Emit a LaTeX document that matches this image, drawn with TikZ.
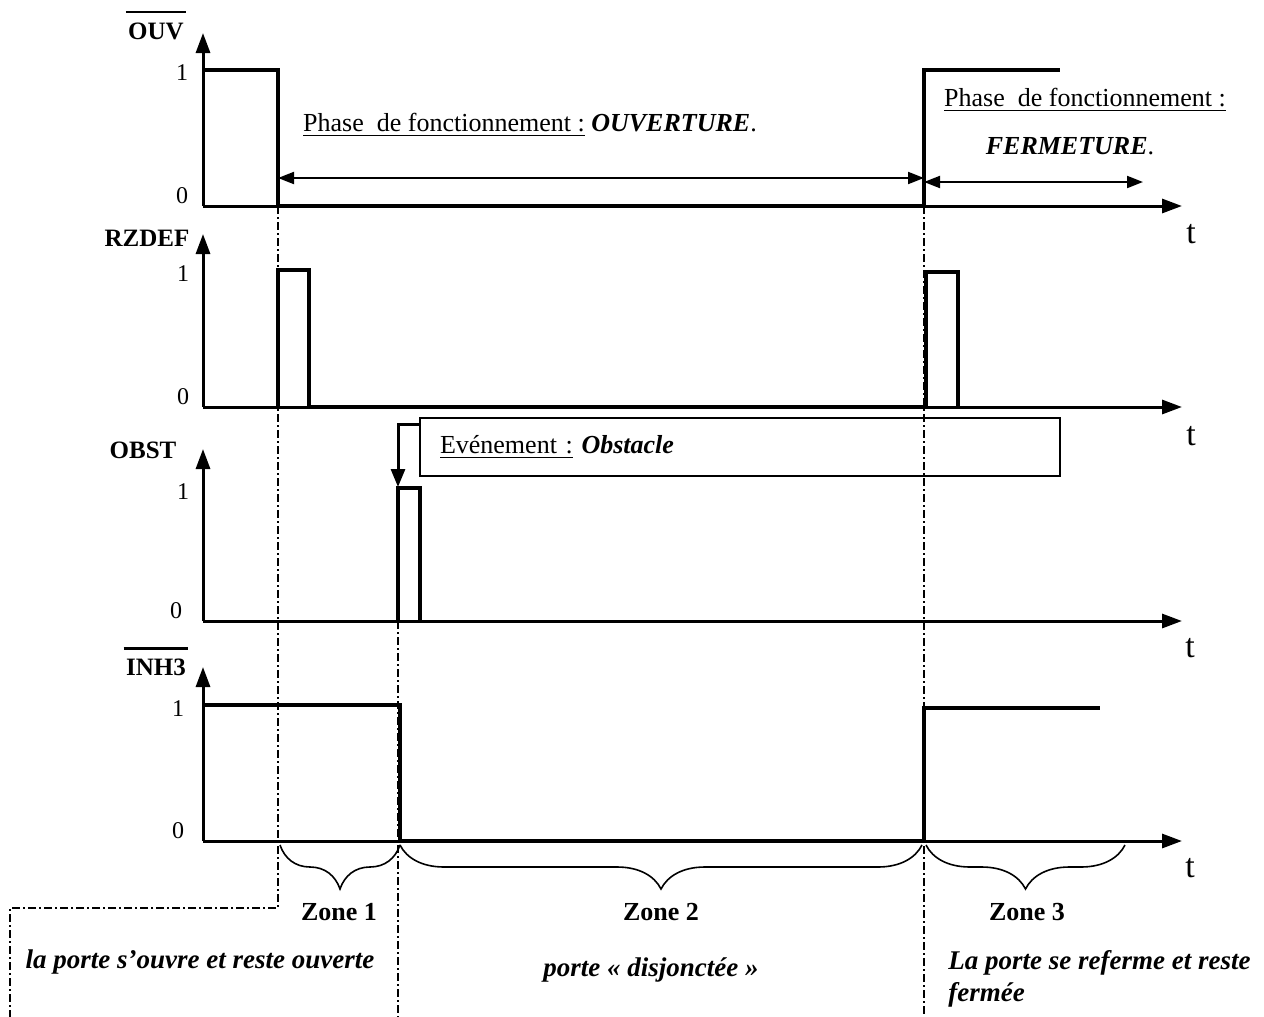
\documentclass[tikz,border=0pt]{standalone}
\usepackage{fontspec}
\setmainfont{Liberation Serif}
\usetikzlibrary{arrows.meta,positioning,decorations.pathreplacing}

\begin{document}
\begin{tikzpicture}[x=0.5pt,y=-0.5pt,
    every node/.style={inner sep=1pt}]
  \tikzstyle{axe}=[line width=1.5pt,-{Triangle[length=10pt,width=7pt]}]
  \tikzstyle{signal}=[line width=2pt,line join=miter]
  \tikzstyle{duree}=[line width=1pt,{Triangle[length=8pt,width=6pt]}-{Triangle[length=8pt,width=6pt]}]
  \tikzstyle{repere}=[line width=1pt,dash pattern=on 4pt off 1.5pt on 1pt off 1.5pt]
  \tikzstyle{accolade}=[line width=0.8pt,decorate,decoration={brace,mirror,amplitude=22pt}]
  \tikzstyle{barre}=[line width=1.3pt]
  \tikzstyle{nom}=[font=\fontsize{12.5}{14}\selectfont\bfseries]
  \tikzstyle{niveau}=[font=\fontsize{12}{14}\selectfont]
  \tikzstyle{temps}=[font=\fontsize{17}{19}\selectfont]
  \tikzstyle{texte}=[font=\fontsize{13}{15}\selectfont]
  \tikzstyle{zone}=[font=\fontsize{13}{15}\selectfont\bfseries]
  \tikzstyle{commentaire}=[font=\fontsize{13.5}{16}\selectfont\bfseries\itshape]

  \useasboundingbox (0,0) rectangle (1264,1017);

  % origines des chronogrammes
  \coordinate (oA) at (203,206);
  \coordinate (oB) at (203,407);
  \coordinate (oC) at (203,621);
  \coordinate (oD) at (203,841);

  % axes
  \draw[axe] (oA) -- (203,33);
  \draw[axe] (oA) -- (1182,206);
  \draw[axe] (oB) -- (203,234);
  \draw[axe] (oB) -- (1182,407);
  \draw[axe] (oC) -- (203,449);
  \draw[axe] (oC) -- (1182,621);
  \draw[axe] (oD) -- (203,667);
  \draw[axe] (oD) -- (1182,841);

  \node[nom]   (ouv)   at (156,31)  {OUV};
  \node[nom]   (rzdef) at (147,238) {RZDEF};
  \node[nom]   (obst)  at (143,450) {OBST};
  \node[nom]   (inh)   at (156,667) {INH3};
  \draw[barre] ([yshift=4pt]ouv.north west) -- ([yshift=4pt]ouv.north east);
  \draw[barre] ([yshift=4pt]inh.north west) -- ([yshift=4pt]inh.north east);

  \node[niveau] (unA)  at (182,73)  {1};
  \node[niveau] (zeA)  at (182,196) {0};
  \node[niveau] (unB)  at (183,274) {1};
  \node[niveau] (zeB)  at (183,397) {0};
  \node[niveau] (unC)  at (183,492) {1};
  \node[niveau] (zeC)  at (176,611) {0};
  \node[niveau] (unD)  at (178,709) {1};
  \node[niveau] (zeD)  at (178,831) {0};

  \node[temps] (tA) at (1191,234) {t};
  \node[temps] (tB) at (1191,436) {t};
  \node[temps] (tC) at (1190,648) {t};
  \node[temps] (tD) at (1190,868) {t};

  % reperes verticaux
  \draw[repere] (278,206) -- (278,908) -- (10,908) -- (10,1017);
  \draw[repere] (398,621) -- (398,1017);
  \draw[repere] (924,206) -- (924,1017);

  % signaux
  \draw[signal] (203,70) -- (278,70) -- (278,206) -- (924,206) -- (924,70) -- (1060,70);
  \draw[signal] (278,407) -- (278,270) -- (309,270) -- (309,407) -- (926,407)
                -- (926,272) -- (958,272) -- (958,407);
  \draw[signal] (398,621) -- (398,488) -- (420,488) -- (420,621);
  \draw[signal] (203,705) -- (400,705) -- (400,841) -- (924,841) -- (924,708) -- (1100,708);

  % phases
  \node[texte] (phaseA) at (530,125)
    {\underline{Phase\ \ de fonctionnement :} \textbf{\textit{OUVERTURE}}.};
  \node[texte] (phaseB) at (1085,100) {\underline{Phase\ \ de fonctionnement :}};
  \node[texte] (fermeture) at (1070,146) {\textbf{\textit{FERMETURE}}.};
  \coordinate (dA) at (278,178);
  \coordinate (fA) at (924,178);
  \coordinate (dB) at (924,182);
  \coordinate (fB) at (1143,182);
  \draw[duree] (dA) -- (fA);
  \draw[duree] (dB) -- (fB);

  % evenement
  \node[texte,draw,line width=1pt,minimum width=320pt,minimum height=29pt,
        text width=300pt,align=left] (evt) at (740,447)
    {\underline{Evénement :} \textbf{\textit{Obstacle}}};
  \draw[line width=1.5pt,-{Triangle[length=9pt,width=7pt]}]
    ([yshift=-3.5pt]evt.north west) -| (398,487);

  % zones
  \draw[accolade] (280,845) -- (400,845);
  \draw[accolade] (400,845) -- (922,845);
  \draw[accolade] (926,845) -- (1125,845);
  \node[zone] (zA) at (339,912) {Zone 1};
  \node[zone] (zB) at (661,912) {Zone 2};
  \node[zone] (zC) at (1027,912) {Zone 3};

  \node[commentaire] (cA) at (200,962) {la porte s’ouvre et reste ouverte};
  \node[commentaire] (cB) at (651,970) {porte « disjonctée »};
  \node[commentaire,align=left,anchor=west] (cC) at (946,979)
    {La porte se referme et reste\\fermée};
\end{tikzpicture}
\end{document}
